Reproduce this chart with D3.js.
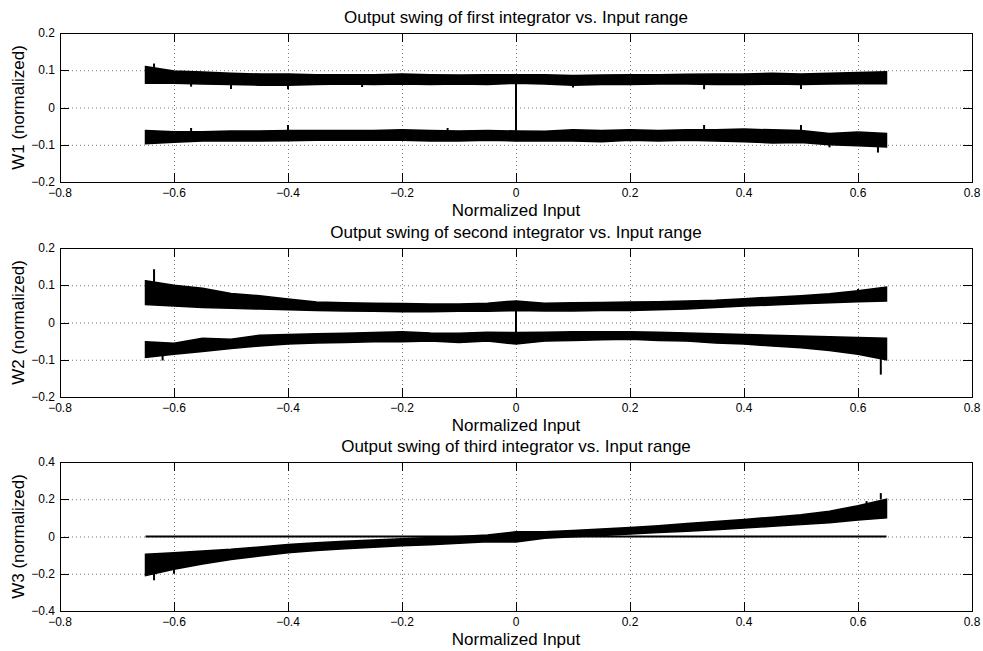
<!DOCTYPE html>
<html>
<head>
<meta charset="utf-8">
<script src="https://cdn.jsdelivr.net/npm/d3@7"></script>
<style>
  body { margin: 0; background: #fff; }
  svg { display: block; font-family: "Liberation Sans", Arial, Helvetica, sans-serif; }
</style>
</head>
<body>
<svg id="chart" width="983" height="651"></svg>
<script>
// input positions where the band edges were read
const inputX = [-0.65, -0.6, -0.55, -0.5, -0.45, -0.4, -0.35, -0.3, -0.25, -0.2, -0.15, -0.1, -0.05, 0,
    0.05, 0.1, 0.15, 0.2, 0.25, 0.3, 0.35, 0.4, 0.45, 0.5, 0.55, 0.6, 0.65];

// W1: upper and lower band envelopes
const w1UpperHi = [0.11, 0.098, 0.095, 0.092, 0.09, 0.09, 0.088, 0.088, 0.088, 0.09, 0.088, 0.087, 0.088, 0.088,
    0.088, 0.086, 0.087, 0.088, 0.088, 0.089, 0.09, 0.09, 0.092, 0.09, 0.092, 0.094, 0.096];
const w1UpperLo = [0.065, 0.065, 0.063, 0.062, 0.06, 0.06, 0.062, 0.063, 0.062, 0.063, 0.062, 0.063, 0.062, 0.065,
    0.063, 0.06, 0.062, 0.062, 0.063, 0.063, 0.062, 0.062, 0.063, 0.062, 0.063, 0.064, 0.064];
const w1LowerHi = [-0.062, -0.065, -0.065, -0.063, -0.063, -0.062, -0.062, -0.062, -0.062, -0.06, -0.062, -0.063, -0.062, -0.063,
    -0.064, -0.06, -0.062, -0.06, -0.062, -0.06, -0.06, -0.058, -0.06, -0.062, -0.07, -0.066, -0.07];
const w1LowerLo = [-0.097, -0.093, -0.09, -0.09, -0.09, -0.089, -0.088, -0.088, -0.088, -0.088, -0.09, -0.09, -0.088, -0.09,
    -0.09, -0.09, -0.092, -0.088, -0.09, -0.088, -0.09, -0.092, -0.095, -0.094, -0.1, -0.103, -0.106];
// spikes: [x, from, to]
const w1Spikes = [[-0.635, 0.1, 0.118], [-0.57, 0.065, 0.056], [-0.5, 0.065, 0.05], [-0.4, 0.065, 0.049],
    [-0.4, -0.065, -0.047], [-0.57, -0.065, -0.055], [-0.27, 0.065, 0.055], [-0.12, -0.065, -0.055],
    [0, 0.075, -0.07], [0.1, 0.065, 0.054], [0.33, 0.065, 0.049], [0.33, -0.065, -0.047],
    [0.5, 0.065, 0.05], [0.5, -0.065, -0.047], [0.55, -0.1, -0.107], [0.635, -0.1, -0.121]];

// W2
const w2UpperHi = [0.112, 0.1, 0.092, 0.078, 0.072, 0.063, 0.055, 0.053, 0.052, 0.051, 0.05, 0.05, 0.052, 0.058,
    0.052, 0.053, 0.054, 0.055, 0.056, 0.058, 0.06, 0.064, 0.068, 0.072, 0.077, 0.085, 0.095];
const w2UpperLo = [0.048, 0.044, 0.04, 0.038, 0.036, 0.034, 0.032, 0.031, 0.03, 0.029, 0.029, 0.03, 0.03, 0.032,
    0.031, 0.031, 0.032, 0.032, 0.034, 0.036, 0.04, 0.044, 0.047, 0.05, 0.053, 0.056, 0.058];
const w2LowerHi = [-0.052, -0.056, -0.042, -0.045, -0.034, -0.032, -0.03, -0.029, -0.027, -0.025, -0.028, -0.029, -0.026, -0.027,
    -0.026, -0.025, -0.025, -0.025, -0.026, -0.028, -0.03, -0.032, -0.034, -0.036, -0.038, -0.04, -0.042];
const w2LowerLo = [-0.094, -0.085, -0.078, -0.07, -0.063, -0.058, -0.055, -0.054, -0.052, -0.052, -0.05, -0.054, -0.05, -0.058,
    -0.05, -0.048, -0.046, -0.045, -0.048, -0.05, -0.055, -0.058, -0.063, -0.068, -0.075, -0.085, -0.1];
const w2Spikes = [[-0.635, 0.1, 0.143], [-0.62, -0.09, -0.102], [0, 0.04, -0.04], [0.6, 0.08, 0.09],
    [0.64, -0.09, -0.14]];

// W3: one band plus a flat line at zero
const w3Hi = [-0.095, -0.087, -0.078, -0.069, -0.056, -0.043, -0.033, -0.026, -0.019, -0.012, -0.006, 0.0, 0.008, 0.025,
    0.026, 0.032, 0.04, 0.048, 0.058, 0.07, 0.08, 0.091, 0.104, 0.117, 0.136, 0.165, 0.2];
const w3Lo = [-0.21, -0.176, -0.148, -0.123, -0.105, -0.087, -0.075, -0.066, -0.058, -0.05, -0.044, -0.036, -0.028, -0.03,
    -0.01, -0.002, 0.005, 0.014, 0.022, 0.028, 0.036, 0.046, 0.055, 0.064, 0.074, 0.088, 0.1];
const w3Flat = [0, 0];
const w3FlatX = [-0.65, 0.65];
const w3Spikes = [[-0.635, -0.2, -0.235], [-0.6, -0.17, -0.2], [0.64, 0.2, 0.233], [0.615, 0.17, 0.19]];

const xTicks = [-0.8, -0.6, -0.4, -0.2, 0, 0.2, 0.4, 0.6, 0.8];
const yTicks12 = [-0.2, -0.1, 0, 0.1, 0.2];
const yTicks3 = [-0.4, -0.2, 0, 0.2, 0.4];

const titles = ["Output swing of first integrator vs. Input range",
    "Output swing of second integrator vs. Input range",
    "Output swing of third integrator vs. Input range"];
const yLabels = ["W1 (normalized)", "W2 (normalized)", "W3 (normalized)"];

const panels = [
    { top: 33, ticks: yTicks12, bands: [[w1UpperHi, w1UpperLo], [w1LowerHi, w1LowerLo]], spikes: w1Spikes },
    { top: 248, ticks: yTicks12, bands: [[w2UpperHi, w2UpperLo], [w2LowerHi, w2LowerLo]], spikes: w2Spikes },
    { top: 462, ticks: yTicks3, bands: [[w3Hi, w3Lo]], spikes: w3Spikes, flat: true }
];

const svg = d3.select("#chart");
const left = 60, right = 972, plotH = 149;
const fmt = v => (v < 0 ? "\u2212" : "") + d3.format("")(Math.abs(v));

const x = d3.scaleLinear().domain([-0.8, 0.8]).range([left, right]);

panels.forEach((p, i) => {
    const y = d3.scaleLinear()
        .domain([p.ticks[0], p.ticks[p.ticks.length - 1]])
        .range([p.top + plotH, p.top]);
    const g = svg.append("g");

    // grid
    g.append("g").selectAll("line").data(xTicks.slice(1, -1)).join("line")
        .attr("x1", d => x(d) + 0.5).attr("x2", d => x(d) + 0.5)
        .attr("y1", p.top).attr("y2", p.top + plotH)
        .attr("stroke", "#777").attr("stroke-width", 1).attr("stroke-dasharray", "1,3");
    g.append("g").selectAll("line").data(p.ticks.slice(1, -1)).join("line")
        .attr("x1", left).attr("x2", right)
        .attr("y1", d => y(d) + 0.5).attr("y2", d => y(d) + 0.5)
        .attr("stroke", "#777").attr("stroke-width", 1).attr("stroke-dasharray", "1,3");

    // bands
    p.bands.forEach(([hi, lo]) => {
        const area = d3.area()
            .x((d, k) => x(inputX[k]))
            .y0((d, k) => y(lo[k]))
            .y1((d, k) => y(hi[k]));
        g.append("path").datum(hi).attr("d", area)
            .attr("fill", "#000").attr("stroke", "#000").attr("stroke-width", 1.5)
            .attr("stroke-linejoin", "miter");
    });

    if (p.flat) {
        const line = d3.line().x((d, k) => x(w3FlatX[k])).y(d => y(d));
        g.append("path").datum(w3Flat).attr("d", line)
            .attr("fill", "none").attr("stroke", "#000").attr("stroke-width", 2.2);
    }

    g.append("g").selectAll("line").data(p.spikes).join("line")
        .attr("x1", d => x(d[0])).attr("x2", d => x(d[0]))
        .attr("y1", d => y(d[1])).attr("y2", d => y(d[2]))
        .attr("stroke", "#000").attr("stroke-width", 2);

    // inward ticks on all sides
    const tl = 9;
    const ticksG = g.append("g").attr("stroke", "#000").attr("stroke-width", 1);
    xTicks.forEach(t => {
        const xx = Math.round(x(t)) + 0.5;
        ticksG.append("line").attr("x1", xx).attr("x2", xx).attr("y1", p.top).attr("y2", p.top + tl);
        ticksG.append("line").attr("x1", xx).attr("x2", xx).attr("y1", p.top + plotH).attr("y2", p.top + plotH - tl);
    });
    p.ticks.forEach(t => {
        const yy = Math.round(y(t)) + 0.5;
        ticksG.append("line").attr("x1", left).attr("x2", left + tl).attr("y1", yy).attr("y2", yy);
        ticksG.append("line").attr("x1", right).attr("x2", right - tl).attr("y1", yy).attr("y2", yy);
    });

    // box
    g.append("rect").attr("x", left + 0.5).attr("y", p.top + 0.5)
        .attr("width", right - left).attr("height", plotH)
        .attr("fill", "none").attr("stroke", "#000").attr("stroke-width", 1);

    // tick labels
    g.append("g").selectAll("text").data(xTicks).join("text")
        .attr("x", d => x(d)).attr("y", p.top + plotH + 15)
        .attr("text-anchor", "middle").attr("font-size", 12).text(fmt);
    g.append("g").selectAll("text").data(p.ticks).join("text")
        .attr("x", left - 5).attr("y", d => y(d) + 4)
        .attr("text-anchor", "end").attr("font-size", 12).text(fmt);

    // labels
    g.append("text").attr("x", (left + right) / 2).attr("y", p.top + plotH + 34)
        .attr("text-anchor", "middle").attr("font-size", 17).text("Normalized Input");
    g.append("text").attr("x", (left + right) / 2).attr("y", p.top - 10)
        .attr("text-anchor", "middle").attr("font-size", 17).text(titles[i]);
    g.append("text")
        .attr("transform", `translate(24,${p.top + plotH / 2}) rotate(-90)`)
        .attr("text-anchor", "middle").attr("font-size", 17).text(yLabels[i]);
});
</script>
</body>
</html>
